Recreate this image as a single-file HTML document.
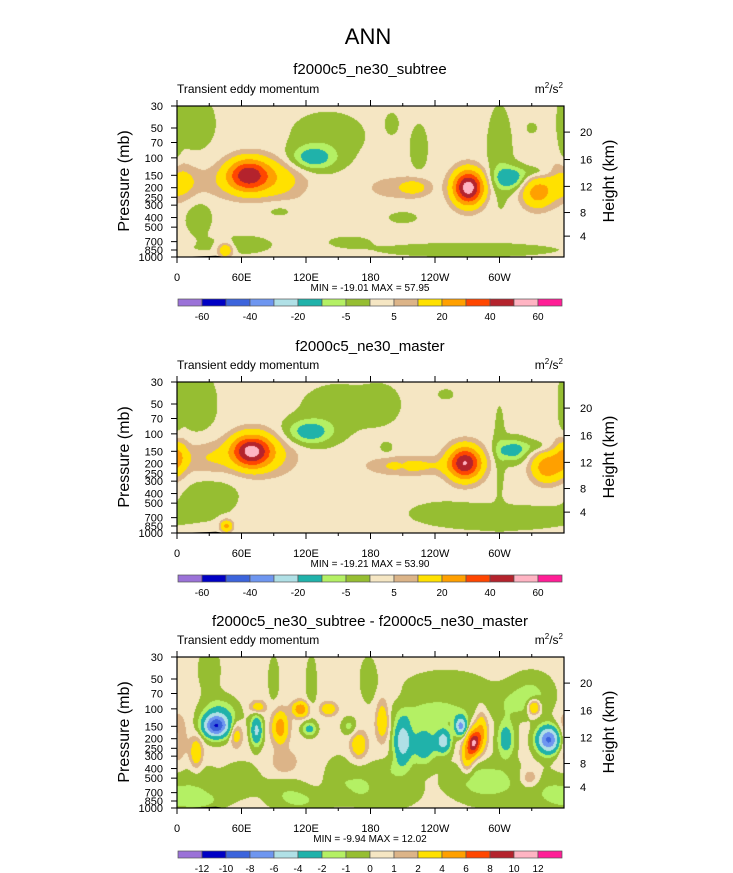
<!DOCTYPE html>
<html><head><meta charset="utf-8"><style>
body{margin:0;background:#fff;width:733px;height:873px;overflow:hidden;position:relative;font-family:"Liberation Sans",Arial,sans-serif}
canvas{position:absolute}
svg{position:absolute;left:0;top:0}
</style></head><body>
<canvas id="c0" width="387" height="151" style="left:177px;top:106px"></canvas>
<canvas id="c1" width="387" height="151" style="left:177px;top:382px"></canvas>
<canvas id="c2" width="387" height="151" style="left:177px;top:657px"></canvas>
<svg id="ov" width="733" height="873"></svg>
<script>
const lonTicks=[0,60,120,180,240,300];
const lonLabels=["0","60E","120E","180","120W","60W"];
const presTicks=[30,50,70,100,150,200,250,300,400,500,700,850,1000];
const heightKm=[4,8,12,16,20];
const heightP=[616,356,194,104,55];
const titles=["f2000c5_ne30_subtree","f2000c5_ne30_master","f2000c5_ne30_subtree - f2000c5_ne30_master"];
const minMax=["MIN = -19.01  MAX = 57.95","MIN = -19.21  MAX = 53.90","MIN = -9.94  MAX = 12.02"];
const levelsA=[-60,-50,-40,-30,-20,-10,-5,0,5,10,20,30,40,50,60];
const levelsB=[-12,-10,-8,-6,-4,-2,-1,0,1,2,4,6,8,10,12];
const labelsA=["-60","","-40","","-20","","-5","","5","","20","","40","","60"];
const labelsB=["-12","-10","-8","-6","-4","-2","-1","0","1","2","4","6","8","10","12"];
const colors=["#9b72d8","#0000c4","#3c64dc","#6e96f0","#b0e0e6","#20b2aa","#b4f064","#96be32","#f5e6c3","#dcb488","#ffe100","#ffa000","#ff4600","#b4232d","#ffb4c3","#ff1e96"];
const base=[1.5,1.5,0.5];
// blobs: [lon, pressure(mb), amplitude, lonWidth(deg), lnPWidth]
const blobs1=[[66,150,44,14,0.27],[95,165,12,18,0.35],[0,178,13,12,0.3],[30,185,5,20,0.3],[271,200,55,10,0.28],[335,225,23,10,0.25],[222,198,10,10,0.15],[200,200,6,18,0.2],[45,850,18,5,0.12],
[126,100,-16,15,0.2],[310,160,-17,10,0.18],[335,140,-6,12,0.1],[140,60,-4,25,0.4],
[15,45,-4,15,0.5],[225,80,-4,6,0.4],[300,100,-5,8,0.8],[20,350,-4,10,0.4],[95,330,-3.5,12,0.15],[60,750,-4,20,0.15],[270,850,-4,60,0.12],[360,40,-4,3,1.0],[200,45,-3,5,0.2],[330,50,-3,4,0.1],[160,700,-3,15,0.1],[210,400,-3.5,10,0.1]];
const blobs2=[[69,149,50,13,0.27],[30,175,9,18,0.28],[0,180,9,8,0.3],[90,165,8,18,0.35],[268,197,48,11,0.27],[215,210,12,25,0.15],[344,217,25,10,0.25],[360,160,10,6,0.25],[46,850,22,4,0.1],
[123,96,-16,15,0.2],[312,147,-15,10,0.18],[335,135,-5,12,0.1],
[18,50,-4,14,0.6],[150,55,-4,25,0.4],[190,50,-4,12,0.3],[30,400,-4,20,0.35],[300,700,-4,50,0.22],[300,150,-3.5,4,0.8],[195,140,-3,5,0.12],[210,210,-3,4,0.1],[360,50,-4,3,0.6],[250,600,-3,20,0.15],[70,110,-3,5,0.1],[250,40,-3,6,0.1]];
const blobs3=[[36,150,-8.5,8,0.18],[40,120,-3,12,0.3],[74,165,-5,4,0.25],[123,160,-3,5,0.12],[160,150,-1.8,5,0.15],[210,210,-6,6,0.35],[230,230,-4,8,0.3],[248,210,-5.5,5,0.2],[264,150,-7,4,0.15],[306,200,-3.5,6,0.3],[346,205,-9,8,0.22],[240,110,-2,25,0.2],[320,90,-1.6,20,0.25],
[18,280,3.2,4,0.25],[55,180,2.8,4,0.2],[75,96,2.8,5,0.1],[96,154,4.8,5,0.25],[115,101,5.5,5,0.12],[141,100,3.2,5,0.1],[169,230,3.3,5,0.2],[191,130,3.3,4,0.3],[276,220,9,4,0.2],[283,170,4,4,0.3],[270,300,4,4,0.25],[332,96,5,4,0.12],[328,500,2,6,0.15],[0,200,2,6,0.4],[100,350,1.5,8,0.2],
[30,40,-1.2,8,0.4],[90,50,-1.2,4,0.4],[125,55,-1.2,4,0.5],[178,50,-1.2,6,0.4],[60,500,-1.2,12,0.3],[150,500,-1.2,10,0.4],[200,700,-1.2,20,0.3],[300,600,-1.2,30,0.4],[120,850,-1.2,15,0.2],[20,850,-1.2,20,0.15],[200,400,-1.1,15,0.2],
[250,60,-1.2,30,0.3],[330,60,-1.2,15,0.3],[20,600,-1.2,15,0.4],[100,700,-1.2,15,0.3],[170,600,-1.2,10,0.3],[280,500,-1.2,20,0.3],[350,700,-1.2,15,0.3]];
const topoLon=[10,14,22,30,36,40,43];
const topoP=[1000,988,984,978,972,984,1000];

const W=387,H=151,PX=177,tops=[106,382,657];
const xS=l=>l/360*W;
const yS=p=>(Math.log(p)-Math.log(30))/Math.log(1000/30)*H;
const lonOf=x=>x/W*360;
const lnpOf=y=>Math.log(30)+y/H*Math.log(1000/30);
function hex(c){return [parseInt(c.slice(1,3),16),parseInt(c.slice(3,5),16),parseInt(c.slice(5,7),16)];}
const rgb=colors.map(hex);
[blobs1,blobs2,blobs3].forEach((bl,k)=>{
  const cv=document.getElementById('c'+k),ctx=cv.getContext('2d');
  const img=ctx.createImageData(W,H),lv=k<2?levelsA:levelsB;
  for(let y=0;y<H;y++){const lp=lnpOf(y+0.5);
    for(let x=0;x<W;x++){const lo=lonOf(x+0.5);let v=base[k];
      for(const b of bl){let d=Math.abs(lo-b[0]);if(d>180)d=360-d;const e=Math.log(b[1])-lp;
        v+=b[2]*Math.exp(-(d*d)/(2*b[3]*b[3])-(e*e)/(2*b[4]*b[4]));}
      let i=0;while(i<lv.length&&v>lv[i])i++;
      const c=rgb[i],o=(y*W+x)*4;img.data[o]=c[0];img.data[o+1]=c[1];img.data[o+2]=c[2];img.data[o+3]=255;}}
  ctx.putImageData(img,0,0);
});
const ov=document.getElementById('ov');const NS='http://www.w3.org/2000/svg';
function el(t,a,txt){const e=document.createElementNS(NS,t);for(const k in a)e.setAttribute(k,a[k]);if(txt!==undefined)e.textContent=txt;ov.appendChild(e);return e;}
let e=el('text',{x:368,y:44,'font-size':22,'text-anchor':'middle'},'ANN');


const titleY=[74,351,626],cbY=[299,575,851];
tops.forEach((T,k)=>{
  e=el('text',{x:370,y:titleY[k],'font-size':15,'text-anchor':'middle'},titles[k]);
  
  
  e=el('text',{x:177,y:T-13,'font-size':12},'Transient eddy momentum');
  
  
  e=el('text',{x:563,y:T-13,'font-size':12,'text-anchor':'end'});
  e.innerHTML='m<tspan font-size="8" dy="-5">2</tspan><tspan dy="5">/s</tspan><tspan font-size="8" dy="-5">2</tspan>';
  
  
  const pts=topoLon.map((l,i)=>(PX+xS(l))+','+(T+yS(topoP[i]))).join(' ');
  e=el('polygon',{points:pts,fill:'#000'});
  
  
  e=el('rect',{x:PX,y:T,width:W,height:H,fill:'none',stroke:'#000','stroke-width':1.2});
  
  
  for(let l=0;l<360;l+=30){const x=PX+xS(l),len=l%60?3:6;
    e=el('line',{x1:x,x2:x,y1:T,y2:T-len,stroke:'#000'});
    
    
    e=el('line',{x1:x,x2:x,y1:T+H,y2:T+H+len,stroke:'#000'});
    
    }
  lonTicks.forEach((l,i)=>{e=el('text',{x:PX+xS(l),y:T+H+24,'font-size':11,'text-anchor':'middle'},lonLabels[i]);
    
    });
  presTicks.forEach(p=>{const y=T+yS(p);
    e=el('line',{x1:PX,x2:PX-6,y1:y,y2:y,stroke:'#000'});
    
    
    e=el('text',{x:163,y:y+4,'font-size':11,'text-anchor':'end'},String(p));
    
    });
  heightKm.forEach((h,i)=>{const y=T+yS(heightP[i]);
    e=el('line',{x1:PX+W,x2:PX+W+6,y1:y,y2:y,stroke:'#000'});
    
    
    e=el('text',{x:580,y:y+4,'font-size':11},String(h));
    
    });
  e=el('text',{x:0,y:0,'font-size':16,'text-anchor':'middle',transform:`translate(129,${T+75}) rotate(-90)`},'Pressure (mb)');
  
  
  e=el('text',{x:0,y:0,'font-size':16,'text-anchor':'middle',transform:`translate(614,${T+75}) rotate(-90)`},'Height (km)');
  
  
  e=el('text',{x:370,y:T+H+34,'font-size':10,'text-anchor':'middle'},minMax[k]);
  
  
  const cy=cbY[k],bw=24,lbl=k<2?labelsA:labelsB;
  colors.forEach((c,i)=>{e=el('rect',{x:178+i*bw,y:cy,width:bw,height:7,fill:c,stroke:'#555','stroke-width':0.7});
    
    });
  lbl.forEach((t,i)=>{if(!t)return;e=el('text',{x:178+(i+1)*bw,y:cy+21,'font-size':10,'text-anchor':'middle'},t);
    
    });
});
</script>
</body></html>
